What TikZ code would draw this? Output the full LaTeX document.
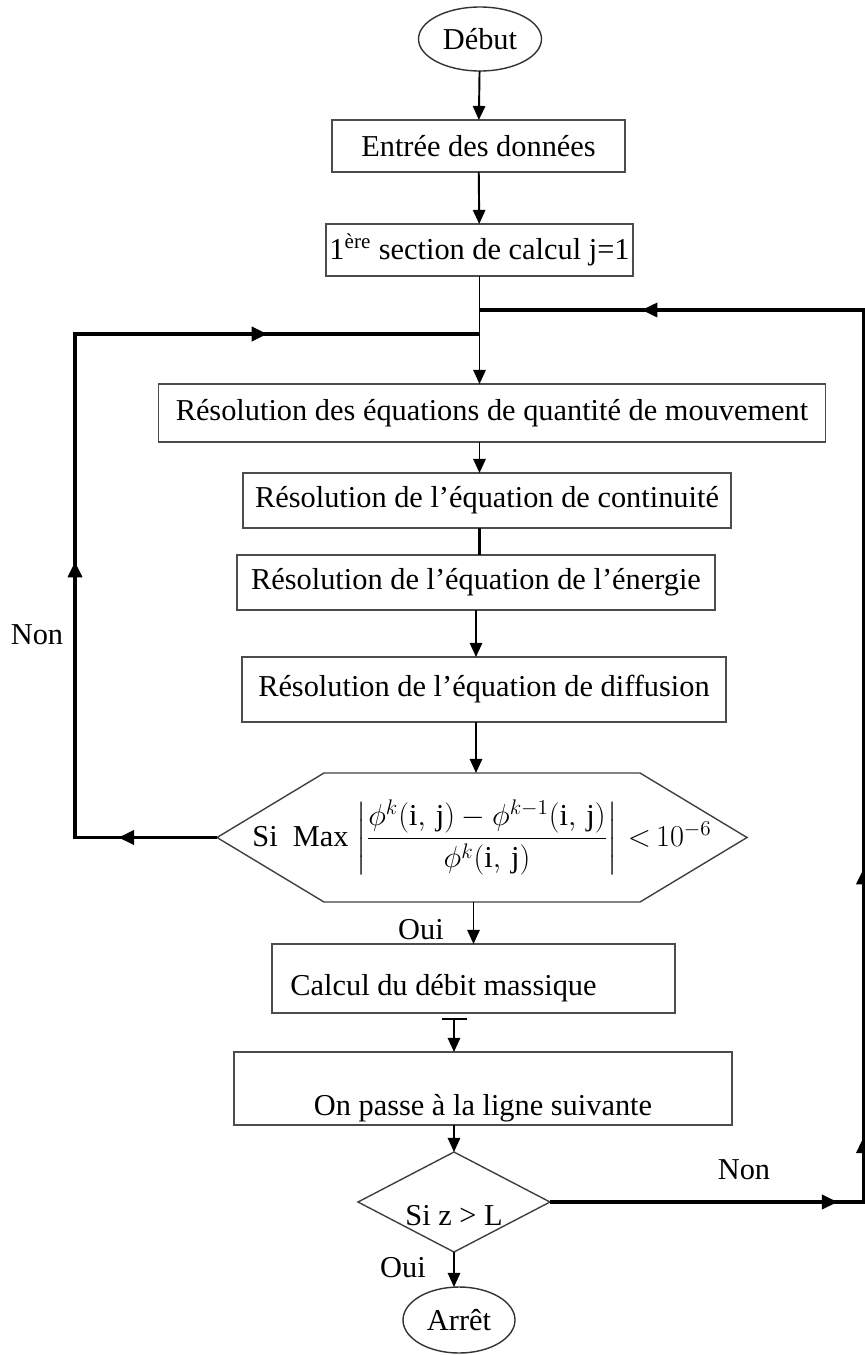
\documentclass[tikz,border=0pt]{standalone}
\usepackage{amsmath}
\usepackage{fontspec}
\setmainfont{Liberation Serif}
\usepackage{tikz}
\usetikzlibrary{arrows.meta, positioning, shapes.geometric, decorations.markings}

\begin{document}
\begin{tikzpicture}[
    node distance=1cm,
    font=\LARGE,
    >={Triangle[length=9pt, width=8pt]},
    box/.style={draw=black!70, line width=0.8pt, inner sep=2pt, outer sep=0pt, align=center},
    term/.style={ellipse, draw=black!80, line width=0.8pt, inner sep=1pt, outer sep=0pt},
    decision/.style={diamond, aspect=1.9, draw=black!75, line width=0.8pt, inner sep=0pt, outer sep=0pt},
    hexa/.style={draw=black!75, line width=0.8pt},
    arrow/.style={-{Triangle[length=8pt, width=7pt]}, line width=1.1pt},
    loopline/.style={line width=2pt, postaction={decorate}}
]
    \useasboundingbox (0,0) rectangle (17.3,-27.1);

    % blocs du calcul
    \node[term, minimum width=2.46cm, minimum height=1.28cm] (debut) at (9.6,-0.78) {Début};
    \node[box, minimum width=5.86cm, minimum height=1.04cm, below=0.98cm of debut, xshift=-0.03cm] (entree) {Entrée des données};
    \node[box, minimum width=6.1cm, minimum height=1.04cm, below=1.04cm of entree, xshift=0.02cm] (section) {1\textsuperscript{ère} section de calcul j=1};
    \node[box, minimum width=13.34cm, minimum height=1.16cm, below=2.16cm of section, xshift=0.25cm] (qdm) {Résolution des équations de quantité de mouvement};
    \node[box, minimum width=9.76cm, minimum height=1.1cm, below=0.62cm of qdm, xshift=-0.1cm] (cont) {Résolution de l’équation de continuité};
    \node[box, minimum width=9.56cm, minimum height=1.1cm, below=0.54cm of cont, xshift=-0.22cm] (ener) {Résolution de l’équation de l’énergie};
    \node[box, minimum width=9.68cm, minimum height=1.3cm, below=0.94cm of ener, xshift=0.16cm] (diff) {Résolution de l’équation de diffusion};
    \node[minimum width=10.6cm, minimum height=2.58cm, inner sep=0pt, outer sep=0pt, below=1.02cm of diff, xshift=-0.04cm] (test)
        {Si\ \ Max $\left|\dfrac{\phi^{k}(\mathrm{i,\,j})-\phi^{k-1}(\mathrm{i,\,j})}{\phi^{k}(\mathrm{i,\,j})}\right|\,{<}\,10^{-6}$};
    \draw[hexa] (test.west) -- ([xshift=2.14cm]test.north west) -- ([xshift=-2.14cm]test.north east)
        -- (test.east) -- ([xshift=-2.14cm]test.south east) -- ([xshift=2.14cm]test.south west) -- cycle;
    \node[box, minimum width=8.06cm, minimum height=1.38cm, below=0.84cm of test, xshift=-0.17cm] (debit) {\raisebox{-0.34cm}[0pt][0pt]{Calcul du débit massique}\hspace{1.2cm}};
    \node[box, minimum width=9.96cm, minimum height=1.46cm, below=0.78cm of debit, xshift=0.19cm] (ligne) {\raisebox{-0.54cm}[0pt][0pt]{On passe à la ligne suivante}};
    \node[decision, minimum width=3.84cm, minimum height=2cm, below=0.54cm of ligne, xshift=-0.58cm] (fintest) {\raisebox{-0.46cm}[0pt][0pt]{Si z > L}};
    \node[term, minimum width=2.24cm, minimum height=1.32cm, below=0.7cm of fintest, xshift=0.1cm] (arret) {Arrêt};

    % points des boucles
    \coordinate (jr) at ([yshift=-0.68cm]section.south);
    \coordinate (jl) at ([yshift=-1.16cm]section.south);
    \coordinate (gauche) at (1.5,0);
    \coordinate (droite) at (17.27,0);
    \path (debit.south -| fintest) ++(0,-0.1) coordinate (tbar);

    % liaisons
    \draw[arrow] (debut) -- (entree);
    \draw[arrow] (entree) -- (section);
    \draw[arrow] (section) -- (section |- qdm.north);
    \draw[arrow] (qdm.south -| section) -- (cont.north -| section);
    \draw[line width=1.8pt] (cont.south -| section) -- (ener.north -| section);
    \draw[arrow] (ener) -- (diff.north -| ener);
    \draw[arrow] (diff.south -| ener) -- (test.north -| ener);
    \draw[arrow] (test.south -| debit) -- (debit);
    \draw[arrow, {Bar[width=0.5cm]}-{Triangle[length=8pt, width=7pt]}] (tbar) -- (ligne.north -| fintest);
    \draw[arrow] (ligne.south -| fintest) -- (fintest);
    \draw[arrow] (fintest.south) -- (fintest.south |- arret.north);

    % boucle Non (convergence)
    \draw[loopline, decoration={markings,
            mark=at position 0.094 with {\arrow{>}},
            mark=at position 0.398 with {\arrow{>}},
            mark=at position 0.798 with {\arrow{>}}}]
        (test.west) -- (test.west -| gauche) -- (jl -| gauche) -- (jl);
    % boucle Non (ligne suivante)
    \draw[loopline, decoration={markings,
            mark=at position 0.181 with {\arrow{>}},
            mark=at position 0.238 with {\arrow{>}},
            mark=at position 0.407 with {\arrow{>}},
            mark=at position 0.898 with {\arrow{>}}}]
        (fintest.east) -- (fintest.east -| droite) -- (jr -| droite) -- (jr);

    \node (non1) at (0.74,-12.7) {Non};
    \node (non2) at (14.88,-23.4) {Non};
    \node (oui1) at (8.42,-18.6) {Oui};
    \node (oui2) at (8.06,-25.36) {Oui};
\end{tikzpicture}
\end{document}
